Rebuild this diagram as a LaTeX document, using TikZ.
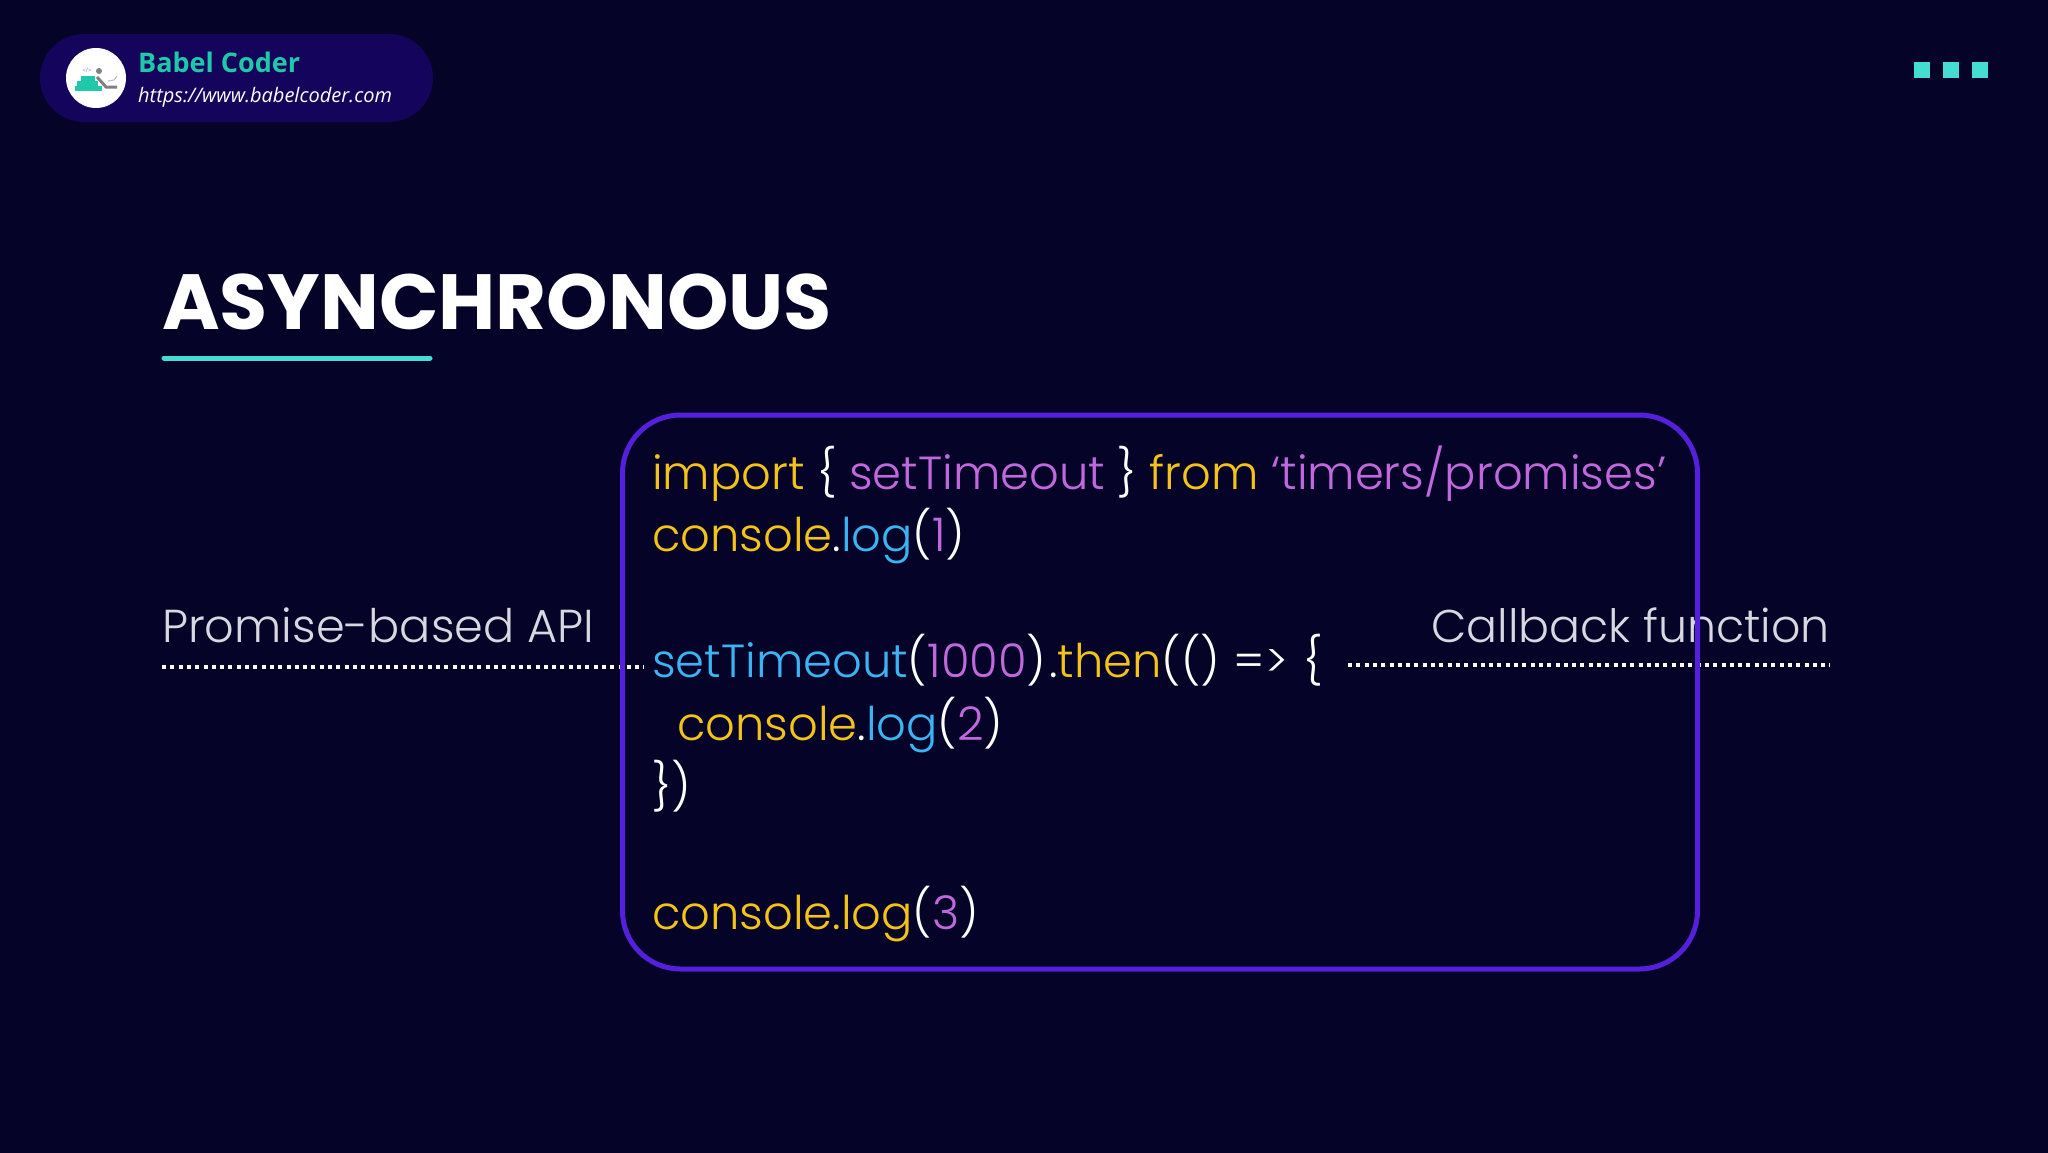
\documentclass[tikz,border=0pt]{standalone}
\usepackage{fontspec}
\setmainfont{Poppins Light}[BoldFont=Poppins Bold]
\newfontfamily\logofont{Open Sans}
\definecolor{bgblue}{HTML}{060328}
\definecolor{pillblue}{HTML}{14045C}
\definecolor{boxviolet}{HTML}{5420DC}
\definecolor{teal}{HTML}{45DCD4}
\definecolor{brandgreen}{HTML}{1FC8A8}
\definecolor{codeyellow}{HTML}{F3C319}
\definecolor{codepurple}{HTML}{C268DE}
\definecolor{codeblue}{HTML}{3AB4F2}
\definecolor{labelgrey}{HTML}{D8D8E0}
\tikzset{
  codeline/.style={anchor=base west, inner sep=0pt, text=white, font=\fontsize{46.4}{46.4}\selectfont},
  sidelabel/.style={inner sep=0pt, text=labelgrey, font=\fontsize{46.2}{46.2}\selectfont},
  dotline/.style={white, line width=4pt, dash pattern=on 4pt off 4.3pt},
  dotsquare/.style={fill=teal, draw=none, minimum size=16pt, inner sep=0pt}
}
\newcommand{\ky}[1]{\textcolor{codeyellow}{#1}}
\newcommand{\kp}[1]{\textcolor{codepurple}{#1}}
\newcommand{\kb}[1]{\textcolor{codeblue}{#1}}
\begin{document}
\begin{tikzpicture}[x=1pt,y=-1pt]

  \useasboundingbox (0,0) rectangle (2048,1152);
  \fill[bgblue] (-5,-5) rectangle (2053,1157);

  % header
  \fill[pillblue, rounded corners=44pt] (40,34) rectangle (433,122);
  \node[circle, fill=white, minimum size=60pt, inner sep=0pt] (logo) at (96,78) {};
  \fill[brandgreen] (75,86) rectangle (102,91);
  \fill[brandgreen] (77,81) rectangle (98,86);
  \fill[brandgreen] (81,76) rectangle (95,81);
  \node[inner sep=0pt, text=gray, font=\logofont\fontsize{6}{6}\selectfont] (tag) at (87,70) {</>};
  \fill[gray] (99,71) circle [radius=3];
  \draw[gray, line width=3pt] (97,77) -- (106,87) -- (117,87);
  \draw[lightgray, line width=1pt] (108,81) -- (114,80) -- (117,76);
  \node[anchor=base west, inner sep=0pt, text=brandgreen, font=\logofont\bfseries\fontsize{27}{27}\selectfont] (brand) at (138,72) {Babel Coder};
  \node[anchor=base west, inner sep=0pt, text=white, font=\logofont\itshape\fontsize{20}{20}\selectfont] (url) at (138,102) {https://www.babelcoder.com};

  \node[dotsquare] (dotA) at (1922,70) {};
  \node[dotsquare] (dotB) at (1951,70) {};
  \node[dotsquare] (dotC) at (1980,70) {};

  % title
  \node[anchor=base west, inner sep=0pt, text=white, font=\bfseries\fontsize{78.2}{78.2}\selectfont] (title) at (162,329) {ASYNCHRONOUS};
  \draw[teal, line width=5pt, line cap=round] (164,358) -- (430,358);

  % side labels
  \node[sidelabel, anchor=base west] (promise) at (162,642) {Promise-based API};
  \node[sidelabel, anchor=base east, font=\fontsize{45.9}{45.9}\selectfont] (callback) at (1830,642) {Callback function};

  \coordinate (promiseL) at (162,667);
  \coordinate (promiseR) at (644,667);
  \coordinate (callbackL) at (1348,665);
  \coordinate (callbackR) at (1830,665);
  \draw[dotline] (promiseL) -- (promiseR);
  \draw[dotline] (callbackL) -- (callbackR);

  % code box
  \draw[boxviolet, line width=5pt, rounded corners=58pt] (622.5,415) rectangle (1697.5,969);

  \node[codeline] (lineA) at (652,489) {\ky{import} \{ \kp{setTimeout} \} \ky{from} \kp{‘timers/promises’}};
  \node[codeline] (lineB) at (652,551) {\ky{console}.\kb{log}(\kp{1})};
  \node[codeline] (lineC) at (652,677) {\kb{setTimeout}(\kp{1000})\hspace{3pt}.\ky{then}(()\hspace{1pt} => \hspace{3pt}\{};
  \node[codeline] (lineD) at (677,740) {\ky{console}.\kb{log}(\kp{2})};
  \node[codeline] (lineE) at (652,803) {\})};
  \node[codeline] (lineF) at (652,929) {\ky{console.log}(\kp{3})};

\end{tikzpicture}
\end{document}
